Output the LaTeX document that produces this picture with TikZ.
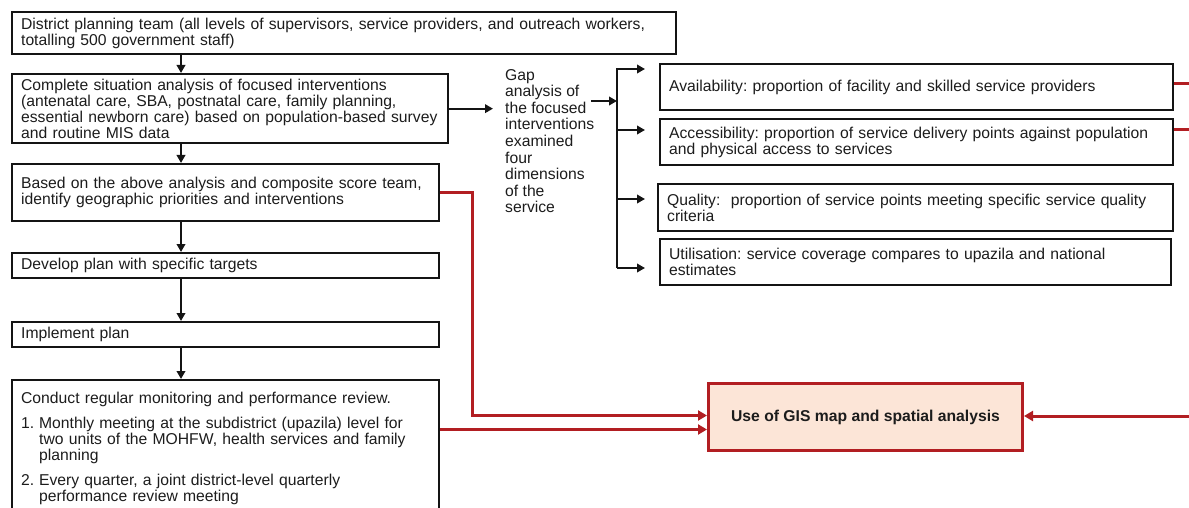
\documentclass[tikz,border=0pt]{standalone}
\usepackage{fontspec}
\setmainfont{Liberation Sans}
\usetikzlibrary{arrows.meta,calc}
\definecolor{redln}{RGB}{178,30,34}
\definecolor{gisfill}{RGB}{252,229,215}
\definecolor{txt}{RGB}{28,28,28}
\definecolor{bord}{RGB}{20,20,20}
\frenchspacing
\begin{document}
\begin{tikzpicture}[x=1pt,y=-1pt,
  box/.style={draw=bord, line width=2.3pt, anchor=north west, inner xsep=9pt, inner ysep=0pt,
    align=left, font=\fontsize{15.7}{16}\selectfont, text=txt},
  gisbox/.style={draw=redln, fill=gisfill, line width=3pt, anchor=north west,
    minimum width=314pt, minimum height=67pt, inner sep=0pt, text=txt,
    font=\bfseries\fontsize{15.7}{16}\selectfont},
  gaptext/.style={anchor=north west, inner sep=0pt, align=left, text=txt,
    font=\fontsize{15.7}{16.6}\selectfont},
  arr/.style={draw=bord, line width=2pt, -{Triangle[length=8pt,width=8.5pt]}},
  redline/.style={draw=redln, line width=3pt},
  redarrow/.style={draw=redln, line width=3pt, -{Triangle[length=9pt,width=10pt]}},
]
\useasboundingbox (0,0) rectangle (1189,508);

% left column
\node[box, text width=646pt, minimum height=42pt] (b1) at (11,11)
  {District planning team (all levels of supervisors, service providers, and outreach workers,\\
   totalling 500 government staff)};
\node[box, text width=418pt, minimum height=69pt] (b2) at (11,73)
  {Complete situation analysis of focused interventions\\
   (antenatal care, SBA, postnatal care, family planning,\\
   essential newborn care) based on population-based survey\\
   and routine MIS data};
\node[box, text width=409pt, minimum height=57pt] (b3) at (11,163)
  {Based on the above analysis and composite score team,\\
   identify geographic priorities and interventions};
\node[box, text width=409pt, minimum height=25pt] (b4) at (11,252)
  {Develop plan with specific targets};
\node[box, text width=409pt, minimum height=25pt] (b5) at (11,321)
  {Implement plan};
\node[box, text width=409pt, minimum height=136pt] (b6) at (11,379)
  {Conduct regular monitoring and performance review.\\[9pt]
   \makebox[18pt][l]{1.}Monthly meeting at the subdistrict (upazila) level for\\
   \hspace*{18pt}two units of the MOHFW, health services and family\\
   \hspace*{18pt}planning\\[9pt]
   \makebox[18pt][l]{2.}Every quarter, a joint district-level quarterly\\
   \hspace*{18pt}performance review meeting};

% gap analysis text
\node[gaptext] (gap) at (505,69)
  {Gap\\analysis of\\the focused\\interventions\\examined\\four\\dimensions\\of the\\service};

% right column
\node[box, text width=495pt, minimum height=46pt] (avail) at (659,63)
  {Availability: proportion of facility and skilled service providers};
\node[box, text width=495pt, minimum height=46pt] (access) at (659,118)
  {Accessibility: proportion of service delivery points against population\\
   and physical access to services};
\node[box, text width=497pt, minimum height=47pt] (quality) at (657,183)
  {Quality:\ \ proportion of service points meeting specific service quality\\
   criteria};
\node[box, text width=493pt, minimum height=46pt] (util) at (659,238)
  {Utilisation: service coverage compares to upazila and national\\
   estimates};

% GIS box
\node[gisbox] (gis) at (707,382) {Use of GIS map and spatial analysis};

% black connectors, left column
\coordinate (ax) at (181,0);
\draw[arr] (b1.south -| ax) -- (b2.north -| ax);
\draw[arr] (b2.south -| ax) -- (b3.north -| ax);
\draw[arr] (b3.south -| ax) -- (b4.north -| ax);
\draw[arr] (b4.south -| ax) -- (b5.north -| ax);
\draw[arr] (b5.south -| ax) -- (b6.north -| ax);

% box 2 to gap text
\draw[arr] (b2.east) -- ($(b2.east -| gap.west)+(-12,0)$);

% bracket
\coordinate (gapout) at (591,101);
\coordinate (bx) at (617,101);
\coordinate (t1) at (645,69);
\coordinate (t2) at (645,130);
\coordinate (t3) at (645,199);
\coordinate (t4) at (645,268);
\draw[arr] (gapout) -- (bx);
\draw[arr, line join=miter] (bx |- t4) -- (bx |- t1) -- (t1);
\draw[arr] (bx |- t2) -- (t2);
\draw[arr] (bx |- t3) -- (t3);
\draw[arr] (bx |- t4) -- (t4);

% red connectors
\coordinate (rv) at (472,0);
\coordinate (g1) at ($(gis.west)+(0,-1.5)$);
\coordinate (g2) at ($(gis.west)+(0,12.5)$);
\draw[redarrow, line join=miter] (b3.east) -| (rv |- g1) -- (g1);
\draw[redarrow] (b6.east |- g2) -- (g2);

\coordinate (r1) at (1189,84);
\coordinate (r2) at (1189,130);
\coordinate (r3) at (1189,416);
\draw[redline] (avail.east |- r1) -- (r1);
\draw[redline] (access.east |- r2) -- (r2);
\draw[redarrow] (r3) -- (gis.east |- r3);
\end{tikzpicture}
\end{document}
